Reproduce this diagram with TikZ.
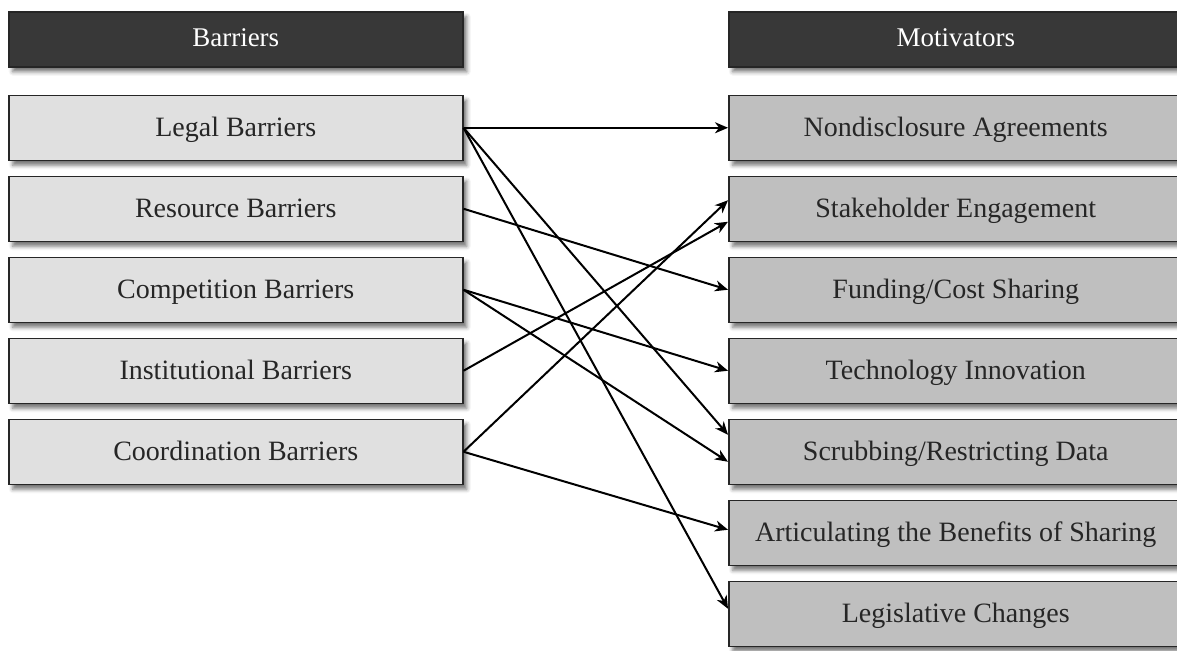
\documentclass[tikz,border=0pt]{standalone}
\usepackage{fontspec}
\setmainfont{Liberation Serif}
\usetikzlibrary{positioning,shadows.blur,arrows.meta}
\begin{document}
\begin{tikzpicture}[>={Stealth[length=6.5pt,width=5.5pt,inset=2pt]},x=0.5pt,y=-0.5pt,
  box/.style={draw=black!85,line width=0.75pt,minimum width=227pt,inner sep=0pt,
    blur shadow={shadow xshift=2pt,shadow yshift=-2.5pt,shadow blur radius=2pt,shadow opacity=55}},
  head/.style={box,fill=black!78,text=white,minimum height=27.5pt,text height=10pt,text depth=3pt,font=\fontsize{13.5}{15}\selectfont},
  barrier/.style={box,fill=black!12,text=black!85,minimum height=32.5pt,text height=12pt,text depth=3pt,font=\fontsize{14}{16}\selectfont},
  motiv/.style={box,fill=black!25,text=black!85,minimum height=32.5pt,text height=12pt,text depth=3pt,font=\fontsize{14}{16}\selectfont},
  link/.style={->,line width=1pt}]
\clip (0,0) rectangle (1177,650);
% barriers
\node[head,anchor=north west] (bhead) at (8,11) {Barriers};
\node[barrier,below=13.5pt of bhead] (legal) {Legal Barriers};
\node[barrier,below=7.25pt of legal] (resource) {Resource Barriers};
\node[barrier,below=7.25pt of resource] (compet) {Competition Barriers};
\node[barrier,below=7.25pt of compet] (instit) {Institutional Barriers};
\node[barrier,below=7.25pt of instit] (coord) {Coordination Barriers};
% motivators
\node[head,anchor=north west] (mhead) at (728,11) {Motivators};
\node[motiv,below=13.5pt of mhead] (nda) {Nondisclosure Agreements};
\node[motiv,below=7.25pt of nda] (stake) {Stakeholder Engagement};
\node[motiv,below=7.25pt of stake] (fund) {Funding/Cost Sharing};
\node[motiv,below=7.25pt of fund] (tech) {Technology Innovation};
\node[motiv,below=7.25pt of tech] (scrub) {Scrubbing/Restricting Data};
\node[motiv,below=7.25pt of scrub] (artic) {Articulating the Benefits of Sharing};
\node[motiv,below=7.25pt of artic] (legis) {Legislative Changes};
% links
\draw[link] (legal.east) -- (nda.west);
\draw[link] (legal.east) -- ([yshift=8.5pt]scrub.west);
\draw[link] (legal.east) -- ([yshift=2.5pt]legis.west);
\draw[link] (resource.east) -- (fund.west);
\draw[link] (compet.east) -- (tech.west);
\draw[link] (compet.east) -- ([yshift=-5pt]scrub.west);
\draw[link] (instit.east) -- ([yshift=-6.5pt]stake.west);
\draw[link] (coord.east) -- ([yshift=4.25pt]stake.west);
\draw[link] (coord.east) -- ([yshift=1.5pt]artic.west);
\end{tikzpicture}
\end{document}
